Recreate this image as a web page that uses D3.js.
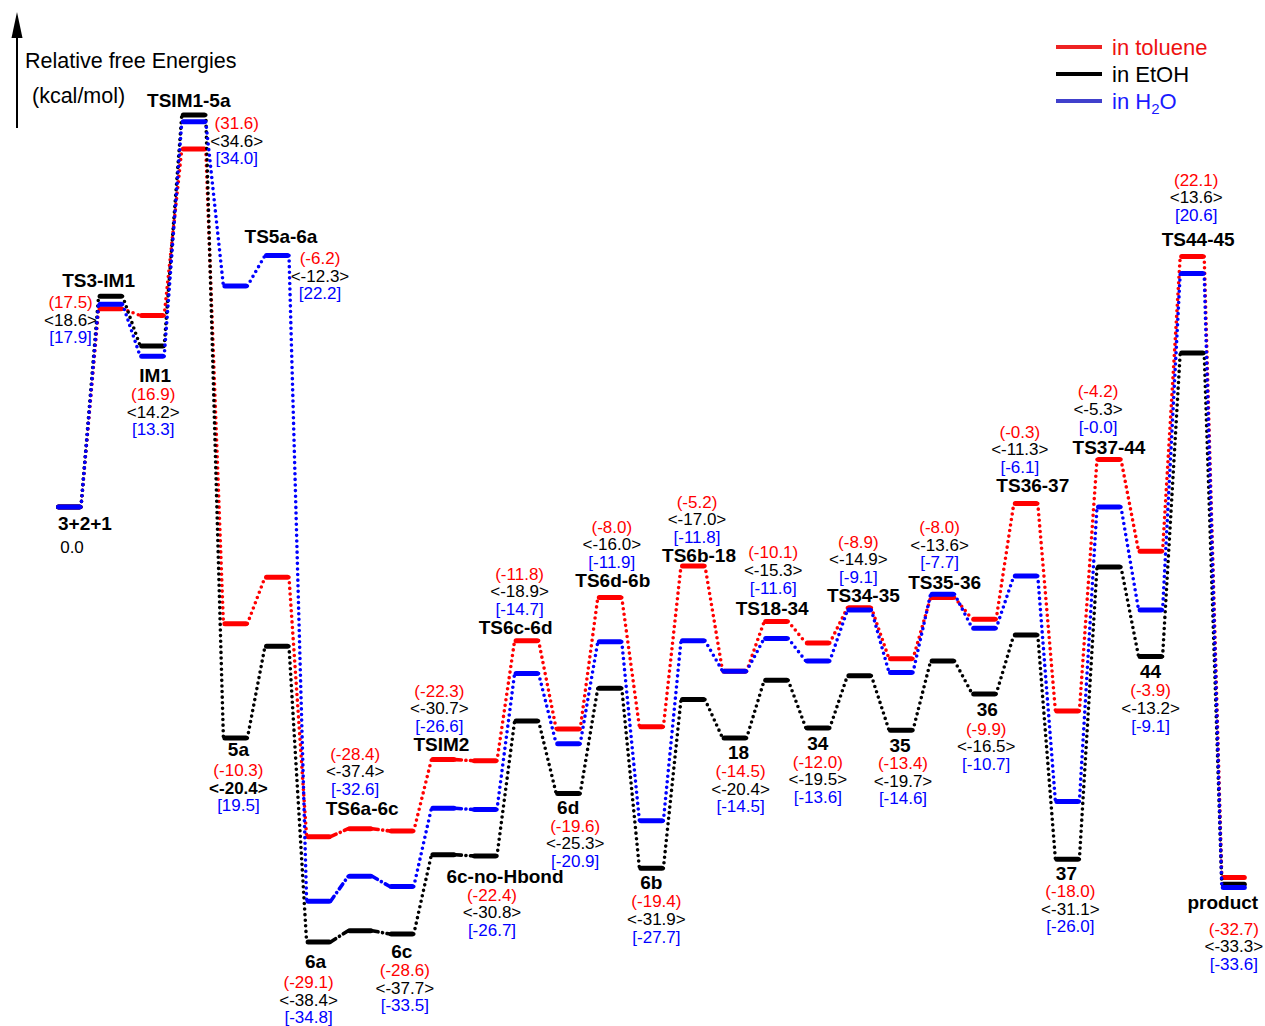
<!DOCTYPE html>
<html><head><meta charset="utf-8">
<script src="https://cdn.jsdelivr.net/npm/d3@7"></script>
<style>body{margin:0;background:#fff}svg{display:block}text{font-family:"Liberation Sans",Arial,sans-serif}</style>
</head><body><svg id="c" width="1265" height="1026"></svg>
<script>
const states = ["3+2+1","TS3-IM1","IM1","TSIM1-5a","5a","TS5a-6a","6a","TS6a-6c","6c","TSIM2","6c-no-Hbond","TS6c-6d","6d","TS6d-6b","6b","TS6b-18","18","TS18-34","34","TS34-35","35","TS35-36","36","TS36-37","37","TS37-44","44","TS44-45","product"];
const toluene = [0,17.5,16.9,31.6,-10.3,-6.2,-29.1,-28.4,-28.6,-22.3,-22.4,-11.8,-19.6,-8.0,-19.4,-5.2,-14.5,-10.1,-12.0,-8.9,-13.4,-8.0,-9.9,0.3,-18.0,4.2,-3.9,22.1,-32.7];
const etoh    = [0,18.6,14.2,34.6,-20.4,-12.3,-38.4,-37.4,-37.7,-30.7,-30.8,-18.9,-25.3,-16.0,-31.9,-17.0,-20.4,-15.3,-19.5,-14.9,-19.7,-13.6,-16.5,-11.3,-31.1,-5.3,-13.2,13.6,-33.3];
const water   = [0,17.9,13.3,34.0,19.5,22.2,-34.8,-32.6,-33.5,-26.6,-26.7,-14.7,-20.9,-11.9,-27.7,-11.8,-14.5,-11.6,-13.6,-9.1,-14.6,-7.7,-10.7,-6.1,-26.0,0.0,-9.1,20.6,-33.6];
const tolueneLabels = ["","(17.5)","(16.9)","(31.6)","(-10.3)","(-6.2)","(-29.1)","(-28.4)","(-28.6)","(-22.3)","(-22.4)","(-11.8)","(-19.6)","(-8.0)","(-19.4)","(-5.2)","(-14.5)","(-10.1)","(-12.0)","(-8.9)","(-13.4)","(-8.0)","(-9.9)","(-0.3)","(-18.0)","(-4.2)","(-3.9)","(22.1)","(-32.7)"];
const etohLabels = ["0.0","<18.6>","<14.2>","<34.6>","<-20.4>","<-12.3>","<-38.4>","<-37.4>","<-37.7>","<-30.7>","<-30.8>","<-18.9>","<-25.3>","<-16.0>","<-31.9>","<-17.0>","<-20.4>","<-15.3>","<-19.5>","<-14.9>","<-19.7>","<-13.6>","<-16.5>","<-11.3>","<-31.1>","<-5.3>","<-13.2>","<13.6>","<-33.3>"];
const waterLabels = ["","[17.9]","[13.3]","[34.0]","[19.5]","[22.2]","[-34.8]","[-32.6]","[-33.5]","[-26.6]","[-26.7]","[-14.7]","[-20.9]","[-11.9]","[-27.7]","[-11.8]","[-14.5]","[-11.6]","[-13.6]","[-9.1]","[-14.6]","[-7.7]","[-10.7]","[-6.1]","[-26.0]","[-0.0]","[-9.1]","[20.6]","[-33.6]"];
// segment style: dash-dot for segment i joining state i and i+1
const dashDotSegments = [6,7,9];
const legendLabels = ["in toluene","in EtOH","in H"];

// label layout: [ref ('b' bottom bar / 't' top bar), nameDx, nameDy, valDx, valDy(first value)]
const layout = [
 ['b',16,16,3,22.5],['t',-12,-16,-40,6],['b',3,19,1,38],['t',-5,-15,43,8],['b',3,11,3,32],
 ['t',4,-19,43,2.5],['b',-3,19,-10,40],['t',2,-20,-5,-75],['b',0,17,3,36],['t',-2,-15,-4,-69],
 ['b',20,20,7,39],['t',-11,-13,-7,-67],['b',0,14,7,32],['t',3,-17,2,-71],['b',0,14,5,33],
 ['t',6,-11,4,-64],['b',4,14,6,33],['t',-4,-13,-3,-69],['b',0,15,0,34],['t',4,-12,-1,-66],
 ['b',-1,15,2,33],['t',2,-12,-3,-67],['b',3,15,2,35],['t',7,-18,-6,-72],['b',-1,14,3,32],
 ['t',0,-12,-11,-68],['b',0,15,0,34],['t',6,-17,4,-77],['b',-11,15,0,41]
];

const svg = d3.select("#c");
const x = d3.scalePoint().domain(states).range([69, 1233.8]);
const y = d3.scaleLinear().domain([-38.4, 34.6]).range([942, 115]);
const series = [
  {vals: toluene, labels: tolueneLabels, color: "#ff0000"},
  {vals: etoh, labels: etohLabels, color: "#000000"},
  {vals: water, labels: waterLabels, color: "#0000ff"}
];
const half = 12;

series.forEach(s => {
  const g = svg.append("g");
  const segs = d3.range(states.length - 1).map(i => ({i, x1: x(states[i]) + half, y1: y(s.vals[i]), x2: x(states[i+1]) - half, y2: y(s.vals[i+1])}));
  g.selectAll("line.seg").data(segs).join("line").attr("class","seg")
    .attr("x1", d => d.x1).attr("y1", d => d.y1).attr("x2", d => d.x2).attr("y2", d => d.y2)
    .attr("stroke", s.color).attr("stroke-width", 3.6).attr("stroke-linecap","round")
    .attr("stroke-dasharray", d => dashDotSegments.includes(d.i) ? "6,4.5,0.1,4.5" : "0,5.6");
  g.selectAll("line.bar").data(states).join("line").attr("class","bar")
    .attr("x1", d => x(d) - 10.5).attr("x2", d => x(d) + 10.5)
    .attr("y1", (d,i) => y(s.vals[i])).attr("y2", (d,i) => y(s.vals[i]))
    .attr("stroke", s.color).attr("stroke-width", 5).attr("stroke-linecap","round");
});

// labels
const lab = svg.append("g");
states.forEach((name, i) => {
  const L = layout[i];
  const ys = series.map(s => y(s.vals[i]));
  const ref = L[0] === 'b' ? d3.max(ys) : d3.min(ys);
  const cx = x(name);
  lab.append("text").attr("x", cx + L[1]).attr("y", ref + L[2]).attr("dy","0.35em")
    .attr("text-anchor","middle").attr("font-size", 19).attr("font-weight","bold").text(name);
  series.forEach((s, k) => {
    if (!s.labels[i]) return;
    lab.append("text").attr("x", cx + L[3]).attr("y", ref + L[4] + k * 17.6).attr("dy","0.35em")
      .attr("text-anchor","middle").attr("font-size", 17).attr("fill", s.color)
      .attr("font-weight", (i === 4 && k === 1) ? "bold" : "normal")
      .text(s.labels[i]);
  });
});

// axis arrow
svg.append("line").attr("x1",17).attr("x2",17).attr("y1",128).attr("y2",30).attr("stroke","#000").attr("stroke-width",2);
svg.append("path").attr("d","M17,12 L11.5,38 L22.5,38 Z").attr("fill","#000");
svg.append("text").attr("x",25).attr("y",60).attr("dy","0.35em").attr("font-size",21.5).text("Relative free Energies");
svg.append("text").attr("x",32).attr("y",95).attr("dy","0.35em").attr("font-size",21.5).text("(kcal/mol)");

// legend
const legColors = ["#ee2222","#000000","#4040cc"];
const legText = ["#ee1111","#000000","#1a1aff"];
legendLabels.forEach((t, i) => {
  const ly = 47 + i * 27;
  svg.append("line").attr("x1",1056).attr("x2",1102).attr("y1",ly).attr("y2",ly)
    .attr("stroke",legColors[i]).attr("stroke-width",4);
  const tx = svg.append("text").attr("x",1112).attr("y",ly).attr("dy","0.35em").attr("font-size",22).attr("fill",legText[i]).text(t);
  if (i === 2) {
    tx.append("tspan").attr("font-size",15).attr("dy","5").text("2");
    tx.append("tspan").attr("dy","-5").text("O");
  }
});
</script></body></html>
